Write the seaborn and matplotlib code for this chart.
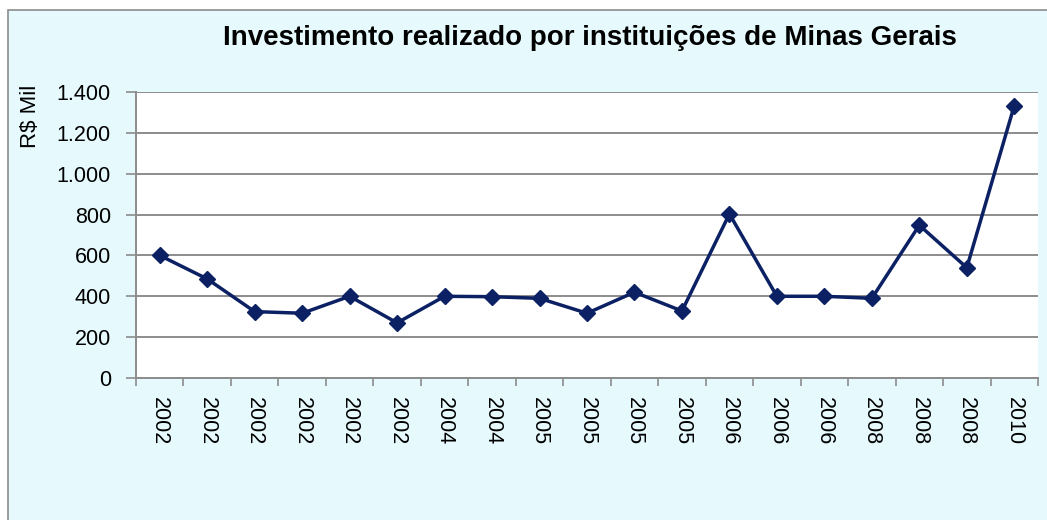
import pandas as pd
import matplotlib.pyplot as plt
import seaborn as sns
from matplotlib.patches import Rectangle

# data
anos = ['2002', '2002', '2002', '2002', '2002', '2002', '2004', '2004', '2005', '2005',
        '2005', '2005', '2006', '2006', '2006', '2008', '2008', '2008', '2010']
investimento = [600, 485, 325, 317, 400, 270, 400, 398, 390, 317,
                420, 328, 803, 400, 400, 390, 748, 540, 1333]

df = pd.DataFrame({'pos': range(len(anos)), 'ano': anos, 'valor': investimento})

sns.set_theme(style="white")
plt.rcParams['font.family'] = ['Liberation Sans', 'DejaVu Sans']

fig = plt.figure(figsize=(10.47, 5.2), dpi=100)
fig.patch.set_facecolor('white')

# light cyan chart frame (Excel style)
fig.patches.append(Rectangle((8 / 1047, -0.05), 1.1, 1 - 10 / 520 + 0.05, transform=fig.transFigure,
                             facecolor='#E6FAFD', edgecolor='#8C8C8C', linewidth=1.2, zorder=-5))

ax = fig.add_axes([136 / 1047, 1 - 378 / 520, (1038 - 136) / 1047, (378 - 92) / 520])
ax.set_zorder(1)
ax.set_facecolor('white')

sns.lineplot(data=df, x='pos', y='valor', ax=ax, color='#0B2163', linewidth=2.5,
             marker='D', markersize=8, markeredgecolor='#0B2163', markeredgewidth=1)

ax.set_xlim(-0.5, len(anos) - 0.5)
ax.set_ylim(0, 1400)
ax.set_yticks(range(0, 1401, 200))
ax.set_yticklabels([f'{v:,}'.replace(',', '.') for v in range(0, 1401, 200)], fontsize=15.5, color='black')
ax.yaxis.grid(True, color='#8C8C8C', linewidth=1.4)
ax.set_axisbelow(True)

ax.set_xticks(range(len(anos)))
ax.set_xticklabels(anos, rotation=-90, fontsize=15.5, color='black')
ax.set_xticks([i - 0.5 for i in range(len(anos) + 1)], minor=True)
ax.tick_params(axis='x', which='major', length=0, pad=14)
ax.tick_params(axis='x', which='minor', length=6, width=1.2, color='#8C8C8C', direction='out', bottom=True)
ax.tick_params(axis='y', length=7, width=1.2, color='#8C8C8C', direction='out', left=True, pad=11)

for s in ['top', 'right']:
    ax.spines[s].set_visible(False)
for s in ['left', 'bottom']:
    ax.spines[s].set_color('#8C8C8C')
    ax.spines[s].set_linewidth(1.4)

ax.set_xlabel('')
ax.set_ylabel('')

fig.text(590 / 1047, 1 - 38 / 520, 'Investimento realizado por instituições de Minas Gerais',
         ha='center', va='center', fontsize=20, fontweight='bold', color='black')
fig.text(30 / 1047, 1 - 116 / 520, 'R$ Mil', rotation=90, ha='center', va='center', fontsize=16, color='black')

plt.savefig('out.png', dpi=100, facecolor=fig.get_facecolor())
